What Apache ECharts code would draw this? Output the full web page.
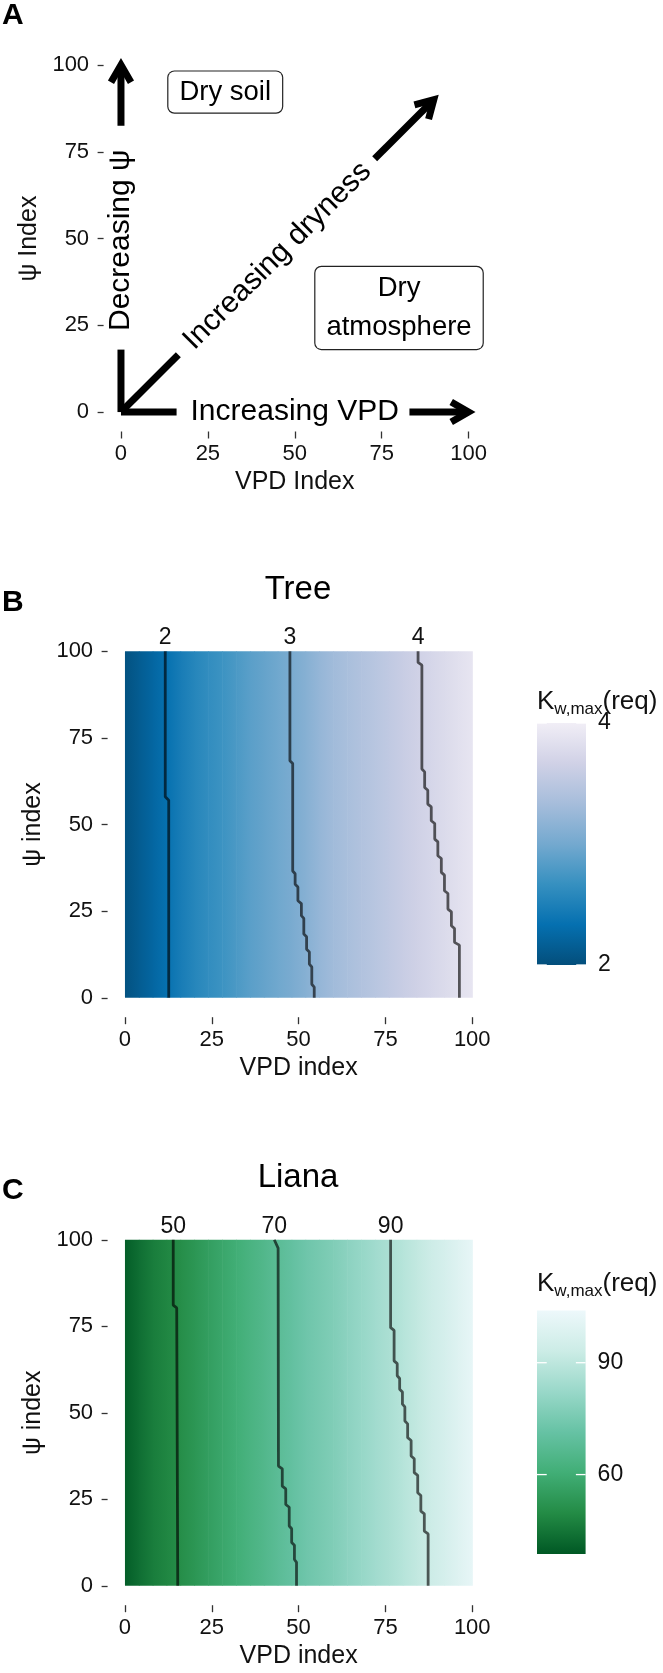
<!DOCTYPE html>
<html><head><meta charset="utf-8">
<script src="https://cdn.jsdelivr.net/npm/echarts@6/dist/echarts.min.js"></script>
<style>html,body{margin:0;padding:0;background:#fff}#c{width:663px;height:1673px}</style>
</head><body><div id="c"></div>
<script>
// ---------------- data ----------------
const axisTicks = [0, 25, 50, 75, 100];
const psiRange = [0, 100];

// Panel A: arrows (from -> to), 1 = with arrow head
const arrowFrom = [[0, 0], [0, 0], [0, 0], [0, 82.5], [83, 0], [73, 73]];
const arrowTo   = [[0, 18], [16, 0], [16.5, 16.5], [0, 100], [100, 0], [90, 90]];
const arrowHead = [0, 0, 0, 1, 1, 1];
const annotText  = ['Decreasing ψ', 'Increasing VPD', 'Increasing dryness'];
const annotPos   = [[0, 49.5], [50, 0], [45, 45]];
const annotAngle = [90, 0, 45];
const boxText = ['Dry soil', 'Dry\natmosphere'];
const boxPos  = [[30, 92.2], [80, 30]];

// Panel B: Tree
const treeVpd  = [0, 4, 8, 12, 16, 20, 24, 28, 32, 36, 40, 44, 48, 52, 56, 60, 64, 68, 72, 76, 80, 84, 88, 92, 96, 100];
const treeFill = [2.04, 2.14, 2.24, 2.34, 2.46, 2.56, 2.64, 2.70, 2.78, 2.86, 2.92, 2.98, 3.04, 3.12, 3.22, 3.30, 3.36, 3.42, 3.48, 3.54, 3.60, 3.66, 3.72, 3.78, 3.84, 3.90];
const treeRange = [2, 4];
const treeLegendTicks = [2, 4];
const treeColors = ['#034e7b', '#0570b0', '#3690c0', '#74a9cf', '#a6bddb', '#d0d1e6', '#f1eef6'];
const treeLevels = ['2', '3', '4'];
const treeContour2 = [[11.6, 100], [11.6, 58.0], [12.6, 57.0], [12.6, 0]];
const treeContour3 = [[47.5, 100], [47.5, 68.4], [48.3, 67.6], [48.3, 36.6], [49.0, 35.8], [49.0, 32.8], [49.8, 32.0], [49.8, 28.0], [50.8, 27.2], [50.8, 23.7], [51.5, 22.9], [51.5, 18.4], [52.3, 17.6], [52.3, 14.0], [53.1, 13.2], [53.1, 9.7], [53.8, 8.9], [53.8, 3.9], [54.5, 3.1], [54.5, 0]];
const treeContour4 = [[84.4, 100], [84.4, 96.8], [85.5, 96.0], [85.5, 66.0], [86.3, 65.2], [86.3, 60.7], [87.2, 59.9], [87.2, 55.9], [88.2, 55.1], [88.2, 51.1], [89.2, 50.3], [89.2, 45.8], [90.1, 45.0], [90.1, 41.0], [91.1, 40.2], [91.1, 36.2], [92.0, 35.4], [92.0, 30.9], [93.0, 30.1], [93.0, 25.6], [94.0, 24.8], [94.0, 20.8], [94.9, 20.0], [94.9, 16.0], [96.3, 15.2], [96.3, 0]];

// Panel C: Liana
const lianaVpd  = [0, 4, 8, 12, 16, 20, 24, 28, 32, 36, 40, 44, 48, 52, 56, 60, 64, 68, 72, 76, 80, 84, 88, 92, 96, 100];
const lianaFill = [40, 43.5, 46.5, 48.5, 50.5, 53, 55.5, 58, 60.5, 63, 65.5, 68, 70.5, 73, 75, 77, 79.5, 81.5, 84, 86, 88.5, 91, 93.5, 96, 99, 102];
const lianaRange = [38.7, 104];
const lianaLegendTicks = [60, 90];
const lianaColors = ['#005824', '#238b45', '#41ae76', '#66c2a4', '#99d8c9', '#ccece6', '#edf8fb'];
const lianaLevels = ['50', '70', '90'];
const lianaContour50 = [[13.9, 100], [13.9, 81.1], [14.9, 80.3], [15.2, 0]];
const lianaContour70 = [[43.0, 100], [44.1, 97.6], [44.2, 34.6], [45.3, 33.8], [45.3, 28.8], [46.3, 28.0], [46.3, 23.5], [47.3, 22.7], [47.3, 17.3], [48.0, 16.5], [48.0, 12.5], [48.8, 11.7], [48.8, 7.6], [49.4, 6.8], [49.4, 0]];
const lianaContour90 = [[76.5, 100], [76.5, 74.6], [77.5, 73.8], [77.5, 65.0], [78.4, 64.2], [78.4, 60.7], [79.1, 59.9], [79.1, 56.8], [79.9, 56.0], [79.9, 52.5], [80.6, 51.7], [80.6, 47.6], [81.4, 46.8], [81.4, 42.8], [82.4, 42.0], [82.4, 37.5], [83.3, 36.7], [83.3, 32.7], [84.3, 31.9], [84.3, 26.9], [85.2, 26.1], [85.2, 21.6], [86.2, 20.8], [86.2, 15.8], [87.3, 15.0], [87.3, 0]];

// ---------------- styling / helpers ----------------
const FONT = '"Liberation Sans", Arial, Helvetica, sans-serif';
const TXT = '#111';
const chart = echarts.init(document.getElementById('c'), null, {renderer: 'canvas'});

function mainX(grid, name) {
  return {
    gridIndex: grid, type: 'value', min: -5, max: 105,
    axisLine: {show: false, onZero: false}, splitLine: {show: false},
    axisTick: {show: true, length: 7, customValues: axisTicks, lineStyle: {color: '#333', width: 1.3}},
    axisLabel: {customValues: axisTicks, fontSize: 22, color: TXT, margin: 11.5, fontFamily: FONT},
    name: name, nameLocation: 'middle', nameGap: 38,
    nameTextStyle: {fontSize: 25, color: TXT, fontFamily: FONT}
  };
}
function mainY(grid, name) {
  return {
    gridIndex: grid, type: 'value', min: -5.6, max: 105.6,
    axisLine: {show: false, onZero: false}, splitLine: {show: false},
    axisTick: {show: true, length: 6, customValues: axisTicks, lineStyle: {color: '#333', width: 1.3}},
    axisLabel: {customValues: axisTicks, fontSize: 22, color: TXT, margin: 14.5, fontFamily: FONT},
    name: name, nameLocation: 'middle', nameGap: 61, nameRotate: 90,
    nameTextStyle: {fontSize: 25, color: TXT, fontFamily: FONT}
  };
}
function legendY(grid, range, ticks) {
  return {
    gridIndex: grid, type: 'value', min: range[0], max: range[1], position: 'right',
    axisLine: {show: false, onZero: false}, splitLine: {show: false}, axisTick: {show: false},
    axisLabel: {customValues: ticks, fontSize: 23, color: TXT, margin: 12, fontFamily: FONT}
  };
}

function renderArrow(params, api) {
  const p1 = api.coord([api.value(0), api.value(1)]);
  const p2 = api.coord([api.value(2), api.value(3)]);
  const children = [{
    type: 'line', shape: {x1: p1[0], y1: p1[1], x2: p2[0], y2: p2[1]},
    style: {stroke: '#000', lineWidth: 7, lineCap: 'butt'}
  }];
  if (api.value(4)) {
    const dx = p2[0] - p1[0], dy = p2[1] - p1[1];
    const len = Math.hypot(dx, dy), ux = dx / len, uy = dy / len;
    const L = 20, a = Math.PI / 6;
    const wing = (s) => {
      const c = Math.cos(s * a), sn = Math.sin(s * a);
      const rx = ux * c - uy * sn, ry = ux * sn + uy * c;
      return [p2[0] - L * rx, p2[1] - L * ry];
    };
    children.push({
      type: 'polyline', shape: {points: [wing(1), p2, wing(-1)]},
      style: {stroke: '#000', fill: null, lineWidth: 7, lineJoin: 'miter', miterLimit: 10, lineCap: 'butt'}
    });
  }
  return {type: 'group', children: children};
}

// strips between consecutive VPD samples, shaded from one sample colour to the next
function makeStripRenderer(range, colors) {
  return function (params, api) {
    const a = api.coord([api.value(0), psiRange[1]]);
    const b = api.coord([api.value(1), psiRange[0]]);
    const c0 = api.visual('color');
    const c1 = echarts.color.lerp((api.value(3) - range[0]) / (range[1] - range[0]), colors);
    return {type: 'rect', shape: {x: a[0], y: a[1], width: b[0] - a[0] + 0.6, height: b[1] - a[1]},
            style: {fill: new echarts.graphic.LinearGradient(0, 0, 1, 0, [{offset: 0, color: c0}, {offset: 1, color: c1}])}};
  };
}

function makeLegendRenderer(colors, ticks) {
  return function (params, api) {
    const lt = api.coord([0, api.value(2)]);
    const rb = api.coord([1, api.value(1)]);
    const stops = colors.map((c, i) => ({offset: i / (colors.length - 1), color: c}));
    const children = [{
      type: 'rect', shape: {x: lt[0], y: lt[1], width: rb[0] - lt[0], height: rb[1] - lt[1]},
      style: {fill: new echarts.graphic.LinearGradient(0, 1, 0, 0, stops)}
    }];
    ticks.forEach(t => {
      const y = api.coord([0, t])[1];
      const w = (rb[0] - lt[0]) / 5;
      children.push({type: 'line', shape: {x1: lt[0], y1: y, x2: lt[0] + w, y2: y}, style: {stroke: '#fff', lineWidth: 1.3}});
      children.push({type: 'line', shape: {x1: rb[0] - w, y1: y, x2: rb[0], y2: y}, style: {stroke: '#fff', lineWidth: 1.3}});
    });
    return {type: 'group', children: children};
  };
}

function strips(vpd, fill) {
  const out = [];
  for (let i = 0; i < vpd.length - 1; i++) out.push([vpd[i], vpd[i + 1], fill[i], fill[i + 1]]);
  return out;
}
function contourSeries(grid, pts) {
  return {type: 'line', xAxisIndex: grid, yAxisIndex: grid, data: pts, showSymbol: false,
          lineStyle: {color: 'rgba(0,0,0,0.63)', width: 2.8}, z: 5, silent: true};
}
function contourLabels(grid, contours, levels) {
  return {type: 'scatter', xAxisIndex: grid, yAxisIndex: grid, symbolSize: 0, silent: true, z: 6,
          itemStyle: {opacity: 1},
          data: contours.map((c, i) => ({value: c[0], label: {formatter: levels[i]}})),
          label: {show: true, position: 'top', distance: 2, fontSize: 23, color: TXT, fontFamily: FONT}};
}

const series = [
  // 0 arrows
  {type: 'custom', xAxisIndex: 0, yAxisIndex: 0, renderItem: renderArrow, silent: true,
   data: arrowFrom.map((f, i) => [f[0], f[1], arrowTo[i][0], arrowTo[i][1], arrowHead[i]])},
  // 1 annotation text
  {type: 'scatter', xAxisIndex: 0, yAxisIndex: 0, symbolSize: 0, silent: true, z: 4, itemStyle: {opacity: 1},
   data: annotPos.map((p, i) => ({value: p, label: {formatter: annotText[i], rotate: annotAngle[i]}})),
   label: {show: true, position: 'inside', fontSize: 30, color: '#000', fontFamily: FONT}},
  // 2 label boxes
  {type: 'scatter', xAxisIndex: 0, yAxisIndex: 0, symbolSize: 0, silent: true, z: 4, itemStyle: {opacity: 1},
   data: [
     {value: boxPos[0], label: {formatter: boxText[0], lineHeight: 31, padding: [5, 11, 5, 11]}},
     {value: boxPos[1], label: {formatter: boxText[1], lineHeight: 39, padding: [2, 11, 2, 11]}}
   ],
   label: {show: true, position: 'inside', fontSize: 27.5, color: '#000', fontFamily: FONT, align: 'center',
           backgroundColor: '#fff', borderColor: '#222', borderWidth: 1.2, borderRadius: 6}},
  // 3 tree heat
  {type: 'custom', xAxisIndex: 1, yAxisIndex: 1, renderItem: makeStripRenderer(treeRange, treeColors), silent: true, z: 1,
   encode: {x: [0, 1], y: -1}, data: strips(treeVpd, treeFill)},
  contourSeries(1, treeContour2), contourSeries(1, treeContour3), contourSeries(1, treeContour4),
  contourLabels(1, [treeContour2, treeContour3, treeContour4], treeLevels),
  // 8 liana heat
  {type: 'custom', xAxisIndex: 2, yAxisIndex: 2, renderItem: makeStripRenderer(lianaRange, lianaColors), silent: true, z: 1,
   encode: {x: [0, 1], y: -1}, data: strips(lianaVpd, lianaFill)},
  contourSeries(2, lianaContour50), contourSeries(2, lianaContour70), contourSeries(2, lianaContour90),
  contourLabels(2, [lianaContour50, lianaContour70, lianaContour90], lianaLevels),
  // 13 legends
  {type: 'custom', xAxisIndex: 3, yAxisIndex: 3, silent: true, renderItem: makeLegendRenderer(treeColors, treeLegendTicks),
   encode: {x: 0, y: [1, 2]}, data: [[0, treeRange[0], treeRange[1]]]},
  {type: 'custom', xAxisIndex: 4, yAxisIndex: 4, silent: true, renderItem: makeLegendRenderer(lianaColors, lianaLegendTicks),
   encode: {x: 0, y: [1, 2]}, data: [[0, lianaRange[0], lianaRange[1]]]}
];

const legendTitle = (y) => ({
  type: 'text', x: 537, y: y, silent: true,
  style: {text: '{k|K}{s|w,max}{k|(req)}', verticalAlign: 'middle', align: 'left',
    rich: {k: {fontSize: 26, lineHeight: 32, fontFamily: FONT, fill: TXT, color: TXT},
           s: {fontSize: 17, lineHeight: 17, verticalAlign: 'bottom', fontFamily: FONT, fill: TXT, color: TXT}}}
});
const plainText = (txt, x, y, size, weight, align) => ({
  type: 'text', x: x, y: y, silent: true,
  style: {text: txt, fontSize: size, fontWeight: weight, fontFamily: FONT, fill: '#000',
          align: align, verticalAlign: 'middle'}
});

chart.setOption({
  animation: false,
  backgroundColor: '#fff',
  textStyle: {fontFamily: FONT},
  grid: [
    {left: 103.6, top: 45.6, width: 382.3, height: 385.9},
    {left: 107.6, top: 631.9, width: 382.0, height: 385.3},
    {left: 107.6, top: 1220.4, width: 382.0, height: 384.8},
    {left: 537, top: 723, width: 49, height: 242},
    {left: 537, top: 1310.5, width: 48.6, height: 243.5}
  ],
  xAxis: [
    mainX(0, 'VPD Index'), mainX(1, 'VPD index'), mainX(2, 'VPD index'),
    {gridIndex: 3, type: 'value', min: 0, max: 1, show: false},
    {gridIndex: 4, type: 'value', min: 0, max: 1, show: false}
  ],
  yAxis: [
    mainY(0, 'ψ Index'), mainY(1, 'ψ index'), mainY(2, 'ψ index'),
    legendY(3, treeRange, treeLegendTicks), legendY(4, lianaRange, lianaLegendTicks)
  ],
  visualMap: [
    {type: 'continuous', show: false, seriesIndex: 3, dimension: 2, min: treeRange[0], max: treeRange[1], inRange: {color: treeColors}},
    {type: 'continuous', show: false, seriesIndex: 8, dimension: 2, min: lianaRange[0], max: lianaRange[1], inRange: {color: lianaColors}}
  ],
  graphic: [
    plainText('A', 2, 16, 30, 'bold', 'left'),
    plainText('B', 2, 603, 30, 'bold', 'left'),
    plainText('C', 2, 1190.5, 30, 'bold', 'left'),
    plainText('Tree', 298, 590, 33, 'normal', 'center'),
    plainText('Liana', 298, 1178, 33, 'normal', 'center'),
    legendTitle(702), legendTitle(1284)
  ],
  series: series
});
</script></body></html>
